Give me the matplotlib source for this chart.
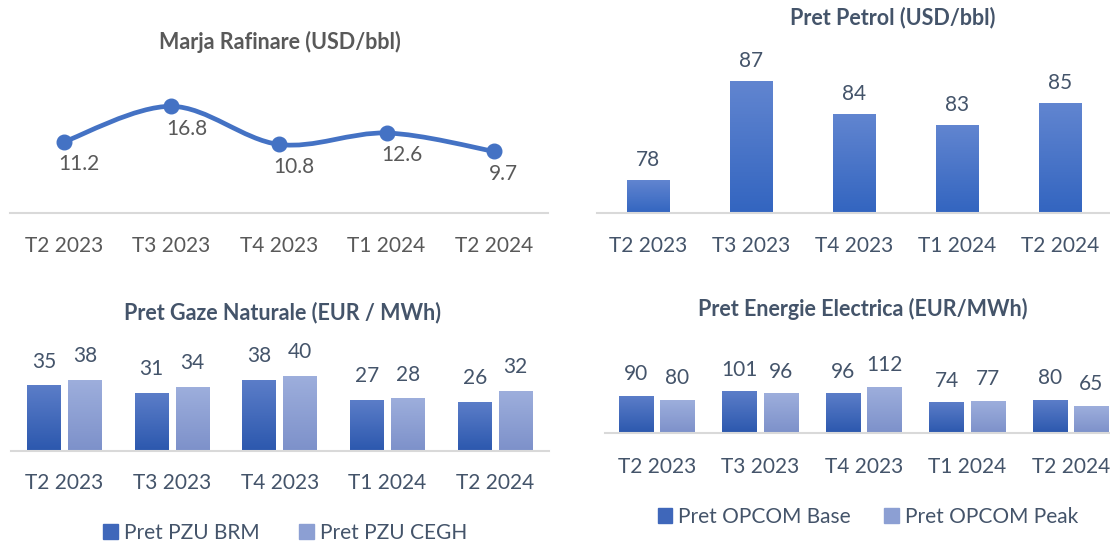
import matplotlib
matplotlib.use("Agg")
from matplotlib import pyplot as plt
from matplotlib.colors import LinearSegmentedColormap
from matplotlib.patches import Patch
from matplotlib.path import Path
from matplotlib.patches import PathPatch
import numpy as np

plt.rcParams['font.family'] = ['Lato', 'DejaVu Sans']

quarters = ['T2 2023', 'T3 2023', 'T4 2023', 'T1 2024', 'T2 2024']
marja = [11.2, 16.8, 10.8, 12.6, 9.7]
petrol = [78, 87, 84, 83, 85]
gaz_brm = [35, 31, 38, 27, 26]
gaz_cegh = [38, 34, 40, 28, 32]
opcom_base = [90, 101, 96, 74, 80]
opcom_peak = [80, 96, 112, 77, 65]

W, H = 1110, 545
GREY = '#595959'
SLATE = '#44546A'
AXIS = '#D9D9D9'
FS = 15
TFS = 15.5

fig = plt.figure(figsize=(W / 100, H / 100), dpi=100)


def make_ax(left, right, base, top):
    return fig.add_axes([left / W, (H - base) / H, (right - left) / W, (base - top) / H])


def style(ax, color, pad):
    for s in ['left', 'right', 'top']:
        ax.spines[s].set_visible(False)
    ax.spines['bottom'].set_color(AXIS)
    ax.spines['bottom'].set_linewidth(1.5)
    ax.set_yticks([])
    ax.set_xticks(range(len(quarters)))
    ax.set_xticklabels(quarters, fontsize=FS, color=color)
    ax.tick_params(axis='x', length=0, pad=pad)
    ax.set_xlim(-0.5, len(quarters) - 0.5)
    ax.patch.set_alpha(0)


def grad_bars(ax, xs, vals, width, c_bot, c_top):
    cmap = LinearSegmentedColormap.from_list('g', [c_bot, c_top])
    bars = ax.bar(xs, vals, width, color='none', edgecolor='none')
    ymin = ax.get_ylim()[0]
    grad = np.linspace(0, 1, 64).reshape(-1, 1)
    for b in bars:
        x0 = b.get_x()
        ax.imshow(grad, extent=[x0, x0 + b.get_width(), max(ymin, 0), b.get_height()],
                  origin='lower', aspect='auto', cmap=cmap, zorder=2)
    return bars


def bar_labels(ax, xs, vals, color, dy=16):
    for x, v in zip(xs, vals):
        ax.annotate(str(v), xy=(x, v), xytext=(0, dy), textcoords='offset points',
                    ha='center', va='center', fontsize=FS, color=color,
                    annotation_clip=False)


# --- Marja Rafinare (line, smoothed)
ax1 = make_ax(10, 548, 213, 86)
ax1.set_ylim(0, 20)
style(ax1, GREY, 16.5)
x = np.arange(len(marja))
y = np.array(marja)
pts = np.column_stack([x, y])
ext = np.vstack([pts[0], pts, pts[-1]])
verts = [tuple(pts[0])]
codes = [Path.MOVETO]
for i in range(len(pts) - 1):
    p0, p1, p2, p3 = ext[i], ext[i + 1], ext[i + 2], ext[i + 3]
    verts += [tuple(p1 + (p2 - p0) / 6), tuple(p2 - (p3 - p1) / 6), tuple(p2)]
    codes += [Path.CURVE4] * 3
ax1.add_patch(PathPatch(Path(verts, codes), facecolor='none', edgecolor='#4472C4',
                        lw=3.4, capstyle='round', zorder=3))
ax1.plot(x, y, 'o', color='#4472C4', ms=10.5, zorder=4)
for xi, v in zip(x, marja):
    ax1.annotate(f'{v:.1f}', xy=(xi, v), xytext=(-4, -16), textcoords='offset points',
                 ha='left', va='center', fontsize=FS, color=GREY, annotation_clip=False)
fig.text(280 / W, 1 - 42 / H, 'Marja Rafinare (USD/bbl)', ha='center', va='center',
         fontsize=TFS, fontweight='bold', color=GREY)

# --- Pret Petrol
ax2 = make_ax(596.5, 1111.5, 213, 48)
ax2.set_ylim(75, 90)
style(ax2, SLATE, 16.5)
grad_bars(ax2, x, petrol, 0.41, '#3365C0', '#6185D0')
ax2.set_xlim(-0.5, 4.5)
ax2.set_ylim(75, 90)
bar_labels(ax2, x, petrol, SLATE, dy=14.5)
fig.text(893 / W, 1 - 18 / H, 'Pret Petrol (USD/bbl)', ha='center', va='center',
         fontsize=TFS, fontweight='bold', color=SLATE)

# --- Pret Gaze Naturale
ax3 = make_ax(10.6, 549, 451, 358)
ax3.set_ylim(0, 50)
style(ax3, SLATE, 15.5)
off, bw = 0.19, 0.315
grad_bars(ax3, x - off, gaz_brm, bw, '#2C58AE', '#5B7DC8')
grad_bars(ax3, x + off, gaz_cegh, bw, '#7D91CA', '#9DAEDC')
ax3.set_xlim(-0.5, 4.5)
ax3.set_ylim(0, 50)
bar_labels(ax3, x - off, gaz_brm, SLATE, dy=17.5)
bar_labels(ax3, x + off, gaz_cegh, SLATE, dy=17.5)
fig.text(283 / W, 1 - 313 / H, 'Pret Gaze Naturale (EUR / MWh)', ha='center', va='center',
         fontsize=TFS, fontweight='bold', color=SLATE)
fig.legend([Patch(color='#3F67BA'), Patch(color='#8C9FD3')], ['Pret PZU BRM', 'Pret PZU CEGH'],
           loc='center', bbox_to_anchor=(285 / W, 1 - 533 / H), ncol=2, frameon=False,
           fontsize=FS, labelcolor=SLATE, handlelength=0.7, handleheight=0.7,
           handletextpad=0.3, columnspacing=1.9)

# --- Pret Energie Electrica
ax4 = make_ax(605, 1122.5, 433, 384)
ax4.set_ylim(0, 120)
style(ax4, SLATE, 17)
off4, bw4 = 0.2, 0.33
grad_bars(ax4, x - off4, opcom_base, bw4, '#2C58AE', '#5B7DC8')
grad_bars(ax4, x + off4, opcom_peak, bw4, '#7D91CA', '#9DAEDC')
ax4.set_xlim(-0.5, 4.5)
ax4.set_ylim(0, 120)
bar_labels(ax4, x - off4, opcom_base, SLATE)
bar_labels(ax4, x + off4, opcom_peak, SLATE)
fig.text(863 / W, 1 - 309 / H, 'Pret Energie Electrica (EUR/MWh)', ha='center', va='center',
         fontsize=TFS, fontweight='bold', color=SLATE)
fig.legend([Patch(color='#3F67BA'), Patch(color='#8C9FD3')], ['Pret OPCOM Base', 'Pret OPCOM Peak'],
           loc='center', bbox_to_anchor=(868 / W, 1 - 517 / H), ncol=2, frameon=False,
           fontsize=FS, labelcolor=SLATE, handlelength=0.7, handleheight=0.7,
           handletextpad=0.3, columnspacing=1.6)

fig.savefig('out.png', dpi=100)
